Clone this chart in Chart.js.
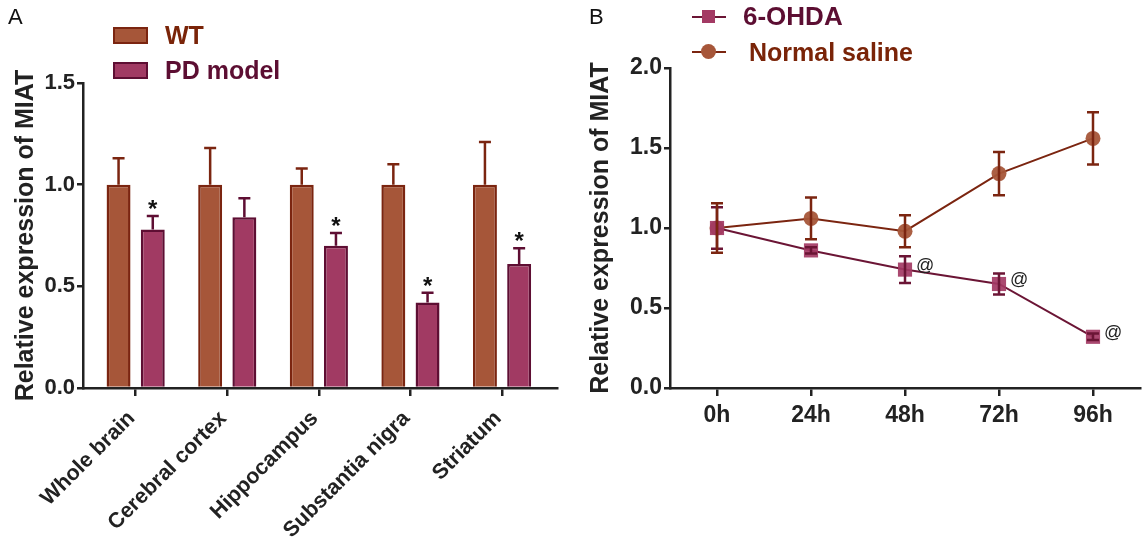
<!DOCTYPE html>
<html>
<head>
<meta charset="utf-8">
<script src="https://cdn.jsdelivr.net/npm/chart.js@4/dist/chart.umd.min.js"></script>
<style>
  body { margin: 0; background: #fff; overflow: hidden; }
  #page { position: relative; width: 1145px; height: 541px; font-family: 'Liberation Sans', Arial, Helvetica, sans-serif; }
  canvas { position: absolute; top: 0; }
  #chartA { left: 0; }
  #chartB { left: 575px; }
  .panel { position: absolute; top: 4px; font-size: 22px; color: #111; }
  .leg { position: absolute; font-weight: bold; font-size: 25px; line-height: 1; white-space: nowrap; }
  .box { position: absolute; width: 31px; height: 13px; border: 2.5px solid; }
  .lline { position: absolute; width: 34px; height: 2px; }
  .lmark { position: absolute; }
</style>
</head>
<body>
<div id="page">
  <canvas id="chartA" width="570" height="541"></canvas>
  <canvas id="chartB" width="575" height="541"></canvas>

  <div class="panel" style="left:8px;">A</div>
  <div class="panel" style="left:589px;">B</div>

  <div class="box" style="left:113px; top:27px; background:#a65639; border-color:#7b2510;"></div>
  <div class="leg" style="left:165px; top:23px; color:#7a2408;">WT</div>
  <div class="box" style="left:113px; top:62px; background:#a13a63; border-color:#5e0e33;"></div>
  <div class="leg" style="left:165px; top:58px; color:#5c0e32;">PD model</div>

  <div class="lline" style="left:692px; top:16px; background:#6b1535;"></div>
  <div class="lmark" style="left:702px; top:10px; width:13px; height:13px; background:#a33a64;"></div>
  <div class="leg" style="left:743px; top:3px; font-size:26px; color:#5c0e32;">6-OHDA</div>
  <div class="lline" style="left:692px; top:51px; background:#7b2510;"></div>
  <div class="lmark" style="left:701px; top:44px; width:15px; height:15px; border-radius:50%; background:#a65639;"></div>
  <div class="leg" style="left:749px; top:40px; color:#7a2408;">Normal saline</div>
</div>

<script>
// panel A: brain regions
const regions = ['Whole brain', 'Cerebral cortex', 'Hippocampus', 'Substantia nigra', 'Striatum'];
const wtMean = [1.0, 1.0, 1.0, 1.0, 1.0];
const wtErr = [0.13, 0.18, 0.08, 0.10, 0.21];
const pdMean = [0.78, 0.84, 0.70, 0.42, 0.61];
const pdErr = [0.066, 0.093, 0.062, 0.049, 0.077];
const pdStars = ['*', '', '*', '*', '*'];
const yTicksA = [0, 0.5, 1.0, 1.5];

// panel B: time course
const hours = ['0h', '24h', '48h', '72h', '96h'];
const ohdaMean = [1.0, 0.86, 0.74, 0.65, 0.32];
const ohdaErr = [0.13, 0.02, 0.083, 0.065, 0.02];
const salineMean = [1.0, 1.06, 0.98, 1.34, 1.56];
const salineErr = [0.155, 0.13, 0.10, 0.135, 0.163];
const ohdaMarks = ['', '', '@', '@', '@'];
const yTicksB = [0, 0.5, 1.0, 1.5, 2.0];

const axisColor = '#222';
Chart.defaults.font.family = "'Liberation Sans', Arial, Helvetica, sans-serif";

// error bars + significance marks, placed with the chart's own y scale
const errorBars = {
  id: 'errorBars',
  afterDatasetsDraw(chart) {
    const ctx = chart.ctx;
    const yScale = chart.scales.y;
    chart.data.datasets.forEach((ds, di) => {
      if (!ds.err) return;
      const meta = chart.getDatasetMeta(di);
      ctx.save();
      ctx.strokeStyle = ds.errColor;
      ctx.lineWidth = 2.5;
      meta.data.forEach((el, i) => {
        const raw = ds.data[i];
        const v = typeof raw === 'object' ? raw.y : raw;
        const e = ds.err[i];
        const top = yScale.getPixelForValue(v + e);
        const bottom = ds.bothWays ? yScale.getPixelForValue(v - e) : el.y;
        const cap = 6;
        ctx.beginPath();
        ctx.moveTo(el.x, bottom);
        ctx.lineTo(el.x, top);
        ctx.moveTo(el.x - cap, top);
        ctx.lineTo(el.x + cap, top);
        if (ds.bothWays) {
          ctx.moveTo(el.x - cap, bottom);
          ctx.lineTo(el.x + cap, bottom);
        }
        ctx.stroke();

        const m = ds.marks ? ds.marks[i] : '';
        if (m === '*') {
          ctx.fillStyle = '#111';
          ctx.font = "bold 24px 'Liberation Sans', Arial, sans-serif";
          ctx.textAlign = 'center';
          ctx.textBaseline = 'alphabetic';
          ctx.fillText(m, el.x, top + 1);
        } else if (m === '@') {
          ctx.fillStyle = '#222';
          ctx.font = "18px 'Liberation Sans', Arial, sans-serif";
          ctx.textAlign = 'left';
          ctx.textBaseline = 'middle';
          ctx.fillText(m, el.x + 11, el.y - 4);
        }
      });
      ctx.restore();
    });
  }
};

function yAxis(max, ticks, width, tickSize, titlePad) {
  return {
    min: 0,
    max: max,
    afterFit: s => { s.width = width; },
    afterBuildTicks: s => { s.ticks = ticks.map(v => ({ value: v })); },
    ticks: {
      callback: v => v.toFixed(1),
      color: axisColor,
      font: { size: tickSize, weight: 'bold' },
      padding: 2
    },
    grid: { drawOnChartArea: false, drawTicks: true, tickLength: 6, color: axisColor, lineWidth: 2.5 },
    border: { color: axisColor, width: 2.5 },
    title: {
      display: true,
      text: 'Relative expression of MIAT',
      color: axisColor,
      font: { size: 25, weight: 'bold' },
      padding: { top: titlePad, bottom: 0 }
    }
  };
}

new Chart(document.getElementById('chartA'), {
  type: 'bar',
  data: {
    datasets: [
      {
        label: 'WT',
        data: wtMean.map((v, i) => ({ x: i, y: v })),
        backgroundColor: '#a65639',
        borderColor: '#7b2510',
        borderWidth: 2.5,
        err: wtErr,
        errColor: '#7b2510'
      },
      {
        label: 'PD model',
        data: pdMean.map((v, i) => ({ x: i, y: v })),
        backgroundColor: '#a13a63',
        borderColor: '#5e0e33',
        borderWidth: 2.5,
        err: pdErr,
        errColor: '#5e0e33',
        marks: pdStars
      }
    ]
  },
  options: {
    responsive: false,
    animation: false,
    layout: { padding: { top: 83, left: 0, right: 13, bottom: 0 } },
    plugins: { legend: { display: false }, tooltip: { enabled: false } },
    datasets: { bar: { categoryPercentage: 0.747, barPercentage: 0.70 } },
    scales: {
      x: {
        type: 'linear',
        offset: false,
        min: -0.575,
        max: 4.6,
        afterFit: s => { s.height = 153; },
        afterBuildTicks: s => { s.ticks = regions.map((_, i) => ({ value: i })); },
        ticks: {
          callback: v => regions[v],
          autoSkip: false,
          minRotation: 45,
          maxRotation: 45,
          labelOffset: -4,
          color: axisColor,
          font: { size: 21.5, weight: 'bold' },
          padding: 10
        },
        grid: { offset: false, drawOnChartArea: false, drawTicks: true, tickLength: 8, color: axisColor, lineWidth: 2.5 },
        border: { color: axisColor, width: 2.5 }
      },
      y: yAxis(1.5, yTicksA, 83, 22, 11)
    }
  },
  plugins: [errorBars]
});

new Chart(document.getElementById('chartB'), {
  type: 'line',
  data: {
    labels: hours,
    datasets: [
      {
        label: '6-OHDA',
        data: ohdaMean,
        borderColor: '#6b1535',
        borderWidth: 2,
        pointStyle: 'rect',
        pointRadius: 10,
        pointBackgroundColor: 'rgba(163,58,100,0.92)',
        pointBorderWidth: 0,
        err: ohdaErr,
        errColor: '#6b1535',
        bothWays: true,
        marks: ohdaMarks
      },
      {
        label: 'Normal saline',
        data: salineMean,
        borderColor: '#7b2510',
        borderWidth: 2,
        pointStyle: 'circle',
        pointRadius: 7.5,
        pointBackgroundColor: 'rgba(166,86,57,0.95)',
        pointBorderWidth: 0,
        err: salineErr,
        errColor: '#7b2510',
        bothWays: true
      }
    ]
  },
  options: {
    responsive: false,
    animation: false,
    layout: { padding: { top: 68, left: 0, right: 0, bottom: 0 } },
    plugins: { legend: { display: false }, tooltip: { enabled: false } },
    scales: {
      x: {
        offset: true,
        afterFit: s => { s.height = 153; },
        ticks: { color: axisColor, font: { size: 23, weight: 'bold' }, padding: 6 },
        grid: { offset: false, drawOnChartArea: false, drawTicks: true, tickLength: 8, color: axisColor, lineWidth: 2.5 },
        border: { color: axisColor, width: 2.5 }
      },
      y: yAxis(2.0, yTicksB, 95, 23, 11)
    }
  },
  plugins: [errorBars]
});
</script>
</body>
</html>
